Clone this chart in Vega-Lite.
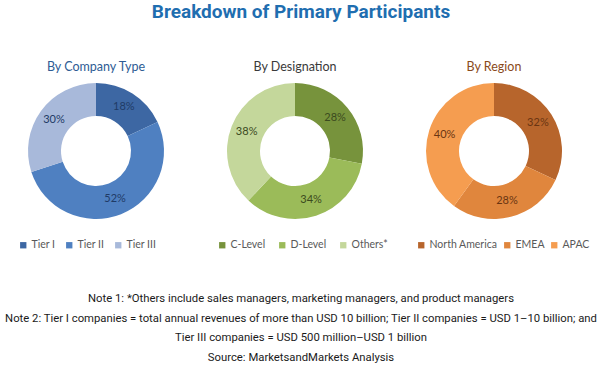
{
  "$schema": "https://vega.github.io/schema/vega-lite/v6.json",
  "padding": {"left": 4, "top": 2, "right": 0, "bottom": 0},
  "background": "white",
  "config": {"view": {"stroke": null}},
  "title": {"text": "Breakdown of Primary Participants", "font": "Roboto", "fontSize": 19, "fontWeight": "bold", "color": "#1F6EB0", "anchor": "middle", "offset": 39},
  "vconcat": [
    {
      "hconcat": [
        {
          "width": 156, "height": 144,
          "title": {"text": "By Company Type", "font": "Lato", "fontSize": 12.5, "fontWeight": "normal", "color": "#2E5C94", "offset": 6},
          "data": {"values": [
            {"cat": "Tier I", "idx": 1, "share": 0.18},
            {"cat": "Tier II", "idx": 2, "share": 0.52},
            {"cat": "Tier III", "idx": 3, "share": 0.30}
          ]},
          "encoding": {
            "theta": {"field": "share", "type": "quantitative", "stack": true},
            "order": {"field": "idx", "type": "quantitative"}
          },
          "layer": [
            {"mark": {"type": "arc", "innerRadius": 35, "outerRadius": 68},
             "encoding": {"color": {"field": "cat", "type": "nominal", "sort": null,
               "scale": {"domain": ["Tier I", "Tier II", "Tier III"], "range": ["#3D67A3", "#4F80C1", "#A8B9DA"]},
               "legend": {"orient": "bottom", "direction": "horizontal", "title": null, "gridAlign": "none", "symbolType": "square", "symbolSize": 40, "labelFont": "Lato", "labelFontSize": 10.5, "labelOffset": 3, "labelColor": "#595959", "columnPadding": 8, "offset": 17}}}},
            {"mark": {"type": "text", "radius": 52, "font": "Lato", "fontSize": 11, "color": "#1F3B66"},
             "encoding": {"text": {"field": "share", "type": "quantitative", "format": ".0%"}}}
          ]
        },
        {
          "width": 156, "height": 144,
          "title": {"text": "By Designation", "font": "Lato", "fontSize": 12.5, "fontWeight": "normal", "color": "#3A3A3A", "offset": 6},
          "data": {"values": [
            {"cat": "C-Level", "idx": 1, "share": 0.28},
            {"cat": "D-Level", "idx": 2, "share": 0.34},
            {"cat": "Others*", "idx": 3, "share": 0.38}
          ]},
          "encoding": {
            "theta": {"field": "share", "type": "quantitative", "stack": true},
            "order": {"field": "idx", "type": "quantitative"}
          },
          "layer": [
            {"mark": {"type": "arc", "innerRadius": 35, "outerRadius": 68},
             "encoding": {"color": {"field": "cat", "type": "nominal", "sort": null,
               "scale": {"domain": ["C-Level", "D-Level", "Others*"], "range": ["#77933C", "#9BBB59", "#C4D79B"]},
               "legend": {"orient": "bottom", "direction": "horizontal", "title": null, "gridAlign": "none", "symbolType": "square", "symbolSize": 40, "labelFont": "Lato", "labelFontSize": 10.5, "labelOffset": 3, "labelColor": "#595959", "columnPadding": 11, "offset": 17}}}},
            {"mark": {"type": "text", "radius": 52, "font": "Lato", "fontSize": 11, "color": "#3B4A1E"},
             "encoding": {"text": {"field": "share", "type": "quantitative", "format": ".0%"}}}
          ]
        },
        {
          "width": 156, "height": 144,
          "title": {"text": "By Region", "font": "Lato", "fontSize": 12.5, "fontWeight": "normal", "color": "#8A4A1A", "offset": 6},
          "data": {"values": [
            {"cat": "North America", "idx": 1, "share": 0.32},
            {"cat": "EMEA", "idx": 2, "share": 0.28},
            {"cat": "APAC", "idx": 3, "share": 0.40}
          ]},
          "encoding": {
            "theta": {"field": "share", "type": "quantitative", "stack": true},
            "order": {"field": "idx", "type": "quantitative"}
          },
          "layer": [
            {"mark": {"type": "arc", "innerRadius": 35, "outerRadius": 68},
             "encoding": {"color": {"field": "cat", "type": "nominal", "sort": null,
               "scale": {"domain": ["North America", "EMEA", "APAC"], "range": ["#B7652C", "#E0863D", "#F59D50"]},
               "legend": {"orient": "bottom", "direction": "horizontal", "title": null, "gridAlign": "none", "symbolType": "square", "symbolSize": 40, "labelFont": "Lato", "labelFontSize": 10.5, "labelOffset": 3, "labelColor": "#595959", "columnPadding": 4, "offset": 17}}}},
            {"mark": {"type": "text", "radius": 52, "font": "Lato", "fontSize": 11, "color": "#6A3512"},
             "encoding": {"text": {"field": "share", "type": "quantitative", "format": ".0%"}}}
          ]
        }
      ],
      "spacing": 43,
      "bounds": "flush",
      "resolve": {"scale": {"color": "independent", "theta": "independent"}}
    },
    {
      "width": 566, "height": 59,
      "data": {"values": [
        {"n": 1, "note": "Note 1: *Others include sales managers, marketing managers, and product managers"},
        {"n": 2, "note": "Note 2: Tier I companies = total annual revenues of more than USD 10 billion; Tier II companies = USD 1–10 billion; and"},
        {"n": 3, "note": "Tier III companies = USD 500 million–USD 1 billion"},
        {"n": 4, "note": "Source: MarketsandMarkets Analysis"}
      ]},
      "mark": {"type": "text", "font": "Roboto", "fontSize": 11.3, "color": "#1A1A1A", "align": "center", "baseline": "middle"},
      "encoding": {
        "y": {"field": "n", "type": "quantitative", "scale": {"domain": [1, 4], "reverse": true}, "axis": null},
        "text": {"field": "note", "type": "nominal"}
      }
    }
  ],
  "spacing": 42
}
